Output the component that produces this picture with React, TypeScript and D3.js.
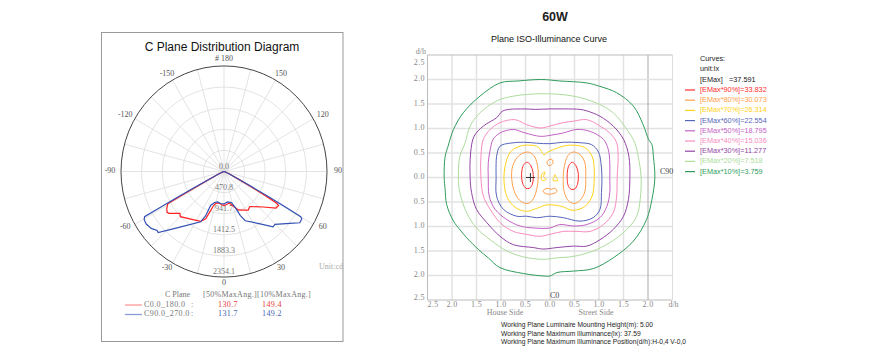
import * as d3 from "d3";

type Pt = [number, number];

// ---- C plane polar diagram: [gamma deg, intensity cd] ----
const polarMax = 2354.1;
const ringValues = [0, 470.8, 941.7, 1412.5, 1883.3, 2354.1];
const ringLabels = ["0.0", "470.8", "941.7", "1412.5", "1883.3", "2354.1"];
const angleTicks = [0, 30, 60, 90, 120, 150, 180, -150, -120, -90, -60, -30];
const angleTickText = ["0", "30", "60", "90", "120", "150", "# 180", "-150", "-120", "-90", "-60", "-30"];
const spokeAngles = [0, 15, 30, 45, 60, 75, 90, 105, 120, 135, 150, 165, 180, 195, 210, 225, 240, 255, 270, 285, 300, 315, 330, 345];

const c0Curve: Pt[] = [
  [-90, 0], [-80, 20], [-70, 60], [-65, 150], [-62.5, 400], [-61.5, 850], [-61, 1200], [-60.75, 1474],
  [-57.7, 1548], [-55, 1589], [-53.4, 1565], [-50.5, 1467], [-47.2, 1373], [-44.7, 1417], [-35.5, 1306],
  [-25.5, 1234], [-21.7, 1133], [-19.3, 924], [-17.4, 795], [-15.1, 739], [-10.1, 713], [-4.4, 738],
  [0, 758], [4.4, 738], [10.1, 713], [14.2, 783], [21, 917], [27.2, 967], [32.8, 1023], [37, 978],
  [48.5, 1195], [55.6, 1442], [58.7, 1458], [59.5, 1406], [60.2, 1100], [61, 750], [62.5, 380],
  [65, 150], [70, 60], [80, 20], [90, 0],
];

const c90Curve: Pt[] = [
  [-90, 0], [-80, 20], [-70, 60], [-65, 180], [-63, 450], [-62, 800], [-61.5, 1300], [-61.2, 1700],
  [-61, 2076], [-59.5, 2116], [-56.6, 2129], [-52.7, 2092], [-49.3, 2015], [-47.9, 2028], [-43.2, 1770],
  [-38.6, 1578], [-25.4, 1241], [-23, 1070], [-22, 818], [-17.3, 723], [-12.2, 695], [-6.3, 718],
  [0, 724], [6.7, 684], [13.8, 711], [17.9, 845], [20.8, 1053], [23.9, 1201], [35.3, 1429],
  [42.2, 1667], [44.7, 1657], [52.5, 1897], [56.6, 2075], [59.4, 2066], [60.1, 2023], [60.6, 1600],
  [61, 1200], [61.8, 700], [63, 400], [65, 180], [70, 60], [80, 20], [90, 0],
];

const planeNames = ["C0.0_180.0", "C90.0_270.0"];
const halfMaxAng = ["130.7", "131.7"];
const tenthMaxAng = ["149.4", "149.2"];

// ---- ISO illuminance: contours in d/h units ----
const isoLevels = ["90%", "80%", "70%", "60%", "50%", "40%", "30%", "20%", "10%"];
const isoValues = ["33.832", "30.073", "26.314", "22.554", "18.795", "15.036", "11.277", "7.518", "3.759"];
const isoColors = ["#ff2d2d", "#ffa04c", "#ffd21a", "#5566bb", "#c262c4", "#f88cc0", "#9445a6", "#addc9c", "#2f9c5c"];

const iso90: Pt[][] = [
  [[-0.46, 0.31], [-0.39, 0.24], [-0.35, 0.12], [-0.34, 0], [-0.36, -0.14], [-0.42, -0.22], [-0.49, -0.22], [-0.55, -0.14], [-0.58, 0], [-0.57, 0.16], [-0.53, 0.27]],
  [[0.46, 0.31], [0.53, 0.24], [0.57, 0.12], [0.58, 0], [0.56, -0.14], [0.51, -0.23], [0.43, -0.24], [0.37, -0.16], [0.35, 0], [0.36, 0.16], [0.4, 0.27]],
];
const iso80: Pt[][] = [
  [[-0.45, 0.52], [-0.33, 0.45], [-0.26, 0.27], [-0.24, 0.02], [-0.27, -0.24], [-0.35, -0.45], [-0.45, -0.53], [-0.59, -0.49], [-0.71, -0.33], [-0.78, -0.04], [-0.76, 0.24], [-0.63, 0.45]],
  [[0.47, 0.52], [0.61, 0.47], [0.71, 0.31], [0.73, 0.02], [0.71, -0.29], [0.61, -0.47], [0.49, -0.53], [0.37, -0.47], [0.29, -0.29], [0.27, 0.02], [0.31, 0.31], [0.37, 0.45]],
  [[-0.04, 0.35], [0.04, 0.37], [0.06, 0.29], [-0.02, 0.24], [-0.06, 0.29]],
  [[-0.14, -0.27], [-0.06, -0.22], [0.02, -0.24], [0.1, -0.22], [0.14, -0.29], [0.06, -0.33], [-0.04, -0.34], [-0.12, -0.31]],
];
const iso70: Pt[][] = [
  [[0.9, 0.2], [0.86, 0.43], [0.71, 0.61], [0.47, 0.66], [0.27, 0.64], [0.07, 0.57], [-0.06, 0.51], [-0.12, 0.46], [-0.24, 0.62], [-0.41, 0.66], [-0.61, 0.64], [-0.78, 0.55], [-0.88, 0.37], [-0.94, 0], [-0.88, -0.39], [-0.71, -0.61], [-0.48, -0.69], [-0.27, -0.63], [-0.07, -0.56], [0.06, -0.56], [0.24, -0.59], [0.47, -0.67], [0.71, -0.59], [0.86, -0.38], [0.9, -0.1]],
  [[-0.16, 0.08], [-0.1, 0.11], [-0.13, 0.02], [-0.08, -0.04], [-0.16, -0.06], [-0.18, 0]],
  [[0.1, 0.06], [0.13, 0], [0.16, -0.06], [0.06, -0.06], [0.08, 0]],
];
const iso60: Pt[][] = [
  [[1.06, 0], [1.04, 0.3], [0.99, 0.52], [0.85, 0.67], [0.61, 0.71], [0.27, 0.72], [0, 0.69], [-0.27, 0.7], [-0.54, 0.72], [-0.82, 0.7], [-1.02, 0.64], [-1.09, 0.43], [-1.1, 0.27], [-1.1, 0], [-1.09, -0.38], [-0.95, -0.65], [-0.68, -0.79], [-0.48, -0.79], [-0.27, -0.82], [0, -0.79], [0.27, -0.82], [0.61, -0.89], [0.88, -0.82], [1.02, -0.65], [1.05, -0.31]],
];
const iso50: Pt[][] = [
  [[1.22, 0], [1.22, 0.3], [1.19, 0.57], [1.09, 0.78], [0.82, 0.94], [0.55, 0.98], [0.27, 0.91], [0, 0.86], [-0.2, 0.84], [-0.51, 0.91], [-0.75, 0.98], [-1.02, 0.91], [-1.16, 0.78], [-1.22, 0.57], [-1.26, 0.3], [-1.26, 0], [-1.24, -0.38], [-1.12, -0.65], [-0.88, -0.86], [-0.61, -0.99], [-0.34, -1.03], [0, -1.03], [0.2, -0.96], [0.48, -0.99], [0.75, -0.96], [1.02, -0.82], [1.16, -0.59], [1.22, -0.31]],
];
const iso40: Pt[][] = [
  [[1.37, 0], [1.39, 0.43], [1.36, 0.71], [1.22, 0.91], [1.02, 1.05], [0.75, 1.18], [0.48, 1.15], [0.27, 1.12], [0, 1.05], [-0.2, 1.01], [-0.48, 1.08], [-0.71, 1.18], [-1.02, 1.12], [-1.22, 0.98], [-1.36, 0.78], [-1.41, 0.43], [-1.41, 0], [-1.36, -0.38], [-1.22, -0.65], [-1.02, -0.92], [-0.75, -1.1], [-0.48, -1.16], [-0.2, -1.2], [0, -1.16], [0.27, -1.1], [0.55, -1.1], [0.82, -1.1], [1.09, -0.96], [1.29, -0.72], [1.36, -0.38]],
];
const iso30: Pt[][] = [
  [[1.63, 0], [1.61, 0.43], [1.5, 0.78], [1.29, 1.05], [1.02, 1.25], [0.75, 1.36], [0.61, 1.39], [0.3, 1.4], [0, 1.4], [-0.3, 1.39], [-0.55, 1.4], [-0.96, 1.36], [-1.09, 1.22], [-1.36, 1.05], [-1.55, 0.84], [-1.62, 0.5], [-1.63, 0], [-1.6, -0.31], [-1.5, -0.65], [-1.29, -0.92], [-1.02, -1.2], [-0.75, -1.37], [-0.34, -1.43], [-0.14, -1.46], [0.14, -1.43], [0.48, -1.4], [0.75, -1.4], [1.02, -1.27], [1.29, -1.06], [1.5, -0.79], [1.6, -0.45]],
];
const iso20: Pt[][] = [
  [[1.86, 0], [1.8, 0.43], [1.73, 0.71], [1.57, 0.98], [1.29, 1.32], [0.95, 1.52], [0.48, 1.66], [-0.14, 1.71], [-0.75, 1.66], [-1.09, 1.56], [-1.43, 1.32], [-1.63, 1.05], [-1.73, 0.71], [-1.84, 0.43], [-1.87, 0], [-1.84, -0.31], [-1.7, -0.72], [-1.5, -1.03], [-1.22, -1.27], [-0.88, -1.5], [-0.54, -1.62], [-0.14, -1.67], [0.14, -1.64], [0.48, -1.61], [0.88, -1.5], [1.22, -1.33], [1.57, -1.06], [1.77, -0.79], [1.84, -0.45]],
];
const iso10: Pt[][] = [
  [[2.14, 0], [2.11, 0.43], [2.08, 0.67], [2.01, 0.78], [1.9, 1.08], [1.7, 1.46], [1.36, 1.73], [1.02, 1.86], [0.75, 1.93], [0.2, 1.97], [-0.17, 2.0], [-0.65, 1.97], [-1.02, 1.93], [-1.43, 1.66], [-1.77, 1.32], [-1.97, 0.98], [-2.08, 0.64], [-2.14, 0.43], [-2.16, 0], [-2.14, -0.24], [-2.11, -0.55], [-1.97, -0.89], [-1.85, -1.05], [-1.7, -1.23], [-1.46, -1.47], [-1.26, -1.64], [-1.02, -1.84], [-0.54, -1.96], [-0.14, -2.01], [0, -2.01], [0.14, -1.94], [0.48, -1.91], [0.88, -1.86], [1.29, -1.64], [1.7, -1.3], [1.97, -0.86], [2.08, -0.45]],
];
const isoContours = [iso90, iso80, iso70, iso60, iso50, iso40, iso30, iso20, iso10];
const gridTicks = [-2, -1.5, -1, -0.5, 0, 0.5, 1, 1.5, 2];
const maxPos: Pt = [-0.4, 0];

const infoLines = [
  "Working Plane Luminaire Mounting Height(m): 5.00",
  "Working Plane Maximum Illuminance(lx): 37.59",
  "Working Plane Maximum Illuminance Position(d/h):H-0,4 V-0,0",
];

const serif = "'Liberation Serif', 'DejaVu Serif', serif";
const sans = "'Liberation Sans', Arial, sans-serif";

export default function App() {
  // polar setup
  const cx = 224, cy = 171.5, R = 103, ky = 1.025;
  const r = d3.scaleLinear().domain([0, polarMax]).range([0, R]);
  const rad = (a: number) => (a * Math.PI) / 180;
  const px = (a: number, v: number) => cx + r(v) * Math.sin(rad(a));
  const py = (a: number, v: number) => cy + r(v) * Math.cos(rad(a)) * ky;
  const polarLine = d3.line<Pt>().x((d) => px(d[0], d[1])).y((d) => py(d[0], d[1]));

  // iso setup
  const x = d3.scaleLinear().domain([-2.5, 2.5]).range([427.5, 672.5]);
  const y = d3.scaleLinear().domain([2.5, -2.5]).range([55, 300]);
  const isoLine = d3
    .line<Pt>()
    .x((d) => x(d[0]))
    .y((d) => y(d[1]))
    .curve(d3.curveCatmullRomClosed.alpha(0.5));
  const fmt = d3.format(".1f");

  return (
    <svg width={894} height={364} style={{ position: "absolute", left: 0, top: 0, background: "#fff" }}>
      {/* ---------- left: C plane diagram ---------- */}
      <rect x={101.5} y={32.5} width={241.5} height={309} fill="none" stroke="#999" />
      <text x={222} y={48} textAnchor="middle" dominantBaseline="middle" fontFamily={sans} fontSize={12} fill="#111">
        C Plane Distribution Diagram
      </text>

      {spokeAngles.map((a) => (
        <line key={a} x1={cx} y1={cy} x2={px(a, polarMax)} y2={py(a, polarMax)} stroke="#dcdcdc" strokeWidth={0.8} />
      ))}
      {ringValues.slice(1, -1).map((v) => (
        <ellipse key={v} cx={cx} cy={cy} rx={r(v)} ry={r(v) * ky} fill="none" stroke="#dcdcdc" strokeWidth={0.8} />
      ))}
      <ellipse cx={cx} cy={cy} rx={R} ry={R * ky} fill="none" stroke="#444" strokeWidth={1} />

      {ringValues.map((v, i) => (
        <text key={v} x={cx} y={cy + r(v) * ky - 4.5} textAnchor="middle" dominantBaseline="middle" fontFamily={serif} fontSize={8} fill="#777">
          {ringLabels[i]}
        </text>
      ))}
      {angleTicks.map((a, i) => (
        <text
          key={a}
          x={cx + 114 * Math.sin(rad(a))}
          y={cy + 112 * Math.cos(rad(a))}
          textAnchor="middle"
          dominantBaseline="middle"
          fontFamily={serif}
          fontSize={8}
          fill="#555"
        >
          {angleTickText[i]}
        </text>
      ))}
      <text x={343} y={267} textAnchor="end" dominantBaseline="middle" fontFamily={serif} fontSize={8} fill="#aaa">
        Unit:cd
      </text>

      <path d={polarLine(c0Curve) ?? ""} fill="none" stroke="#ff2020" strokeWidth={1.2} />
      <path d={polarLine(c90Curve) ?? ""} fill="none" stroke="#3452b4" strokeWidth={1.2} />

      <g fontFamily={serif} fontSize={8} fill="#777">
        <text x={165} y={295} dominantBaseline="middle">C Plane</text>
        <text x={203} y={295} dominantBaseline="middle" letterSpacing={0.3}>[50%MaxAng.][10%MaxAng.]</text>
        {planeNames.map((n, i) => {
          const ry = 305 + i * 9.5;
          const col = i === 0 ? "#e83a3a" : "#4a62b4";
          return (
            <g key={n}>
              <line x1={125} x2={142} y1={ry} y2={ry} stroke={i === 0 ? "#ff9a9a" : "#8c9cd8"} strokeWidth={1.3} />
              <text x={144} y={ry} dominantBaseline="middle" letterSpacing={0.4}>{n}</text>
              <text x={191} y={ry} dominantBaseline="middle">:</text>
              <text x={218} y={ry} dominantBaseline="middle" fill={col} letterSpacing={0.4}>{halfMaxAng[i]}</text>
              <text x={262} y={ry} dominantBaseline="middle" fill={col} letterSpacing={0.4}>{tenthMaxAng[i]}</text>
            </g>
          );
        })}
      </g>

      {/* ---------- right: ISO illuminance ---------- */}
      <text x={555} y={18} textAnchor="middle" dominantBaseline="middle" fontFamily={sans} fontWeight="bold" fontSize={12.5} fill="#222">
        60W
      </text>
      <text x={549} y={40} textAnchor="middle" dominantBaseline="middle" fontFamily={sans} fontSize={9} fill="#111">
        Plane ISO-Illuminance Curve
      </text>

      {gridTicks.map((t) => (
        <g key={t}>
          <line x1={x(t)} x2={x(t)} y1={y(2.5)} y2={y(-2.5)} stroke={t === 2 ? "#aaa" : "#e2e2e2"} strokeWidth={t === 2 ? 1 : 1.5} />
          <line x1={x(-2.5)} x2={x(2.5)} y1={y(t)} y2={y(t)} stroke="#e2e2e2" strokeWidth={1.5} />
        </g>
      ))}
      <line x1={x(-2.5)} x2={x(2.5)} y1={y(2.5)} y2={y(2.5)} stroke="#bbb" />
      <line x1={x(-2.5)} x2={x(2.5)} y1={y(-2.5)} y2={y(-2.5)} stroke="#bbb" />
      <line x1={x(-2.5)} x2={x(-2.5)} y1={y(2.5)} y2={y(-2.5)} stroke="#bbb" />
      <line x1={x(2.5)} x2={x(2.5)} y1={y(2.5)} y2={y(-2.5)} stroke="#ddd" />

      <g fontFamily={serif} fontSize={8} fill="#888">
        {gridTicks.map((t) => (
          <text key={"x" + t} x={x(t)} y={305} textAnchor="middle" dominantBaseline="middle" letterSpacing={0.4}>
            {fmt(Math.abs(t))}
          </text>
        ))}
        <text x={x(-2.5) + 5.5} y={305} textAnchor="middle" dominantBaseline="middle" letterSpacing={0.4}>2.5</text>
        <text x={x(2.5) + 1} y={305} textAnchor="middle" dominantBaseline="middle">d/h</text>
        {gridTicks.map((t) => (
          <text key={"y" + t} x={425} y={y(t)} textAnchor="end" dominantBaseline="middle" letterSpacing={0.4}>
            {fmt(Math.abs(t))}
          </text>
        ))}
        <text x={425} y={y(2.5) + 8} textAnchor="end" dominantBaseline="middle" letterSpacing={0.4}>2.5</text>
        <text x={425} y={y(-2.5) - 2} textAnchor="end" dominantBaseline="middle" letterSpacing={0.4}>2.5</text>
        <text x={426} y={y(2.5) - 2.5} textAnchor="end" dominantBaseline="middle">d/h</text>
        <text x={505} y={313} textAnchor="middle" dominantBaseline="middle">House Side</text>
        <text x={596} y={313} textAnchor="middle" dominantBaseline="middle">Street Side</text>
      </g>
      <text x={x(0)} y={296} dominantBaseline="middle" fontFamily={serif} fontSize={8} fill="#444">C0</text>
      <text x={660} y={172} dominantBaseline="middle" fontFamily={serif} fontSize={8} fill="#444">C90</text>

      {isoContours.map((rings, i) =>
        rings.map((ring, j) => (
          <path key={i + "-" + j} d={isoLine(ring) ?? ""} fill="none" stroke={isoColors[i]} strokeWidth={1} />
        ))
      )}

      <g stroke="#333" strokeWidth={1}>
        <line x1={x(maxPos[0]) - 4.5} x2={x(maxPos[0]) + 4.5} y1={y(maxPos[1])} y2={y(maxPos[1])} />
        <line x1={x(maxPos[0])} x2={x(maxPos[0])} y1={y(maxPos[1]) - 4.5} y2={y(maxPos[1]) + 4.5} />
      </g>

      <g fontFamily={sans} fontSize={7.3}>
        <text x={700} y={59.5} dominantBaseline="middle" fill="#222">Curves:</text>
        <text x={700} y={69.5} dominantBaseline="middle" fill="#222">unit:lx</text>
        <text x={700} y={80} dominantBaseline="middle" fill="#222">[EMax]</text>
        <text x={729} y={80} dominantBaseline="middle" fill="#222">=37.591</text>
        {isoLevels.map((lv, i) => {
          const ly = 90 + i * 10.2;
          return (
            <g key={lv}>
              <line x1={685} x2={695} y1={ly} y2={ly} stroke={isoColors[i]} strokeWidth={1.2} />
              <text x={700} y={ly} dominantBaseline="middle" fill={isoColors[i]}>
                {"[EMax*" + lv + "]=" + isoValues[i]}
              </text>
            </g>
          );
        })}
      </g>

      <g fontFamily={sans} fontSize={6.7} fill="#222">
        {infoLines.map((t, i) => (
          <text key={t} x={501} y={325.5 + i * 8.3} dominantBaseline="middle">{t}</text>
        ))}
      </g>
    </svg>
  );
}
